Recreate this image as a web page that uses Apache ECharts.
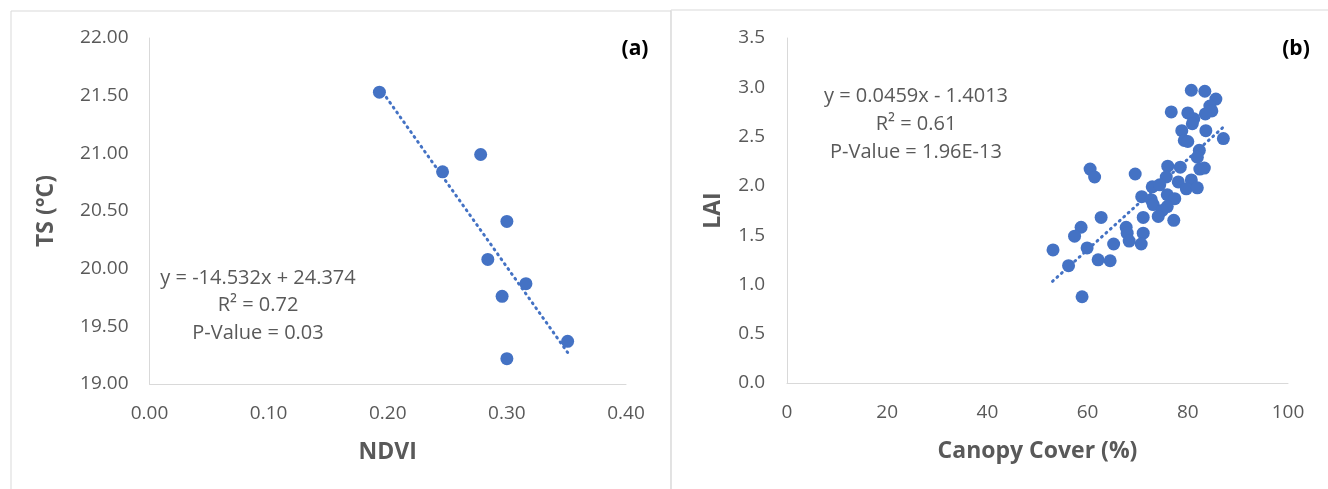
<!DOCTYPE html>
<html>
<head>
<meta charset="utf-8">
<script src="https://cdn.jsdelivr.net/npm/echarts@6/dist/echarts.min.js"></script>
<style>
html,body{margin:0;padding:0;background:#fff;}
#c{width:1328px;height:489px;}
</style>
</head>
<body>
<div id="c"></div>
<script>
// Panel (a): NDVI vs TS
const ndvi = [0.193, 0.246, 0.278, 0.300, 0.284, 0.316, 0.296, 0.351, 0.300];
const ts   = [21.53, 20.84, 20.99, 20.41, 20.08, 19.87, 19.76, 19.37, 19.22];
const trendA = { slope: -14.532, intercept: 24.374, from: 0.193, to: 0.351 };
const eqA = ['y = -14.532x + 24.374', 'R² = 0.72', 'P-Value = 0.03'];
const xTicksA = [0.00, 0.10, 0.20, 0.30, 0.40];
const yTicksA = [19.00, 19.50, 20.00, 20.50, 21.00, 21.50, 22.00];

// Panel (b): Canopy cover vs LAI
const canopy = [80.7, 83.4, 85.6, 84.4, 84.8, 83.5, 76.7, 80.0, 81.2, 80.9,
                78.8, 83.6, 87.1, 79.3, 80.0, 82.3, 81.9, 60.5, 61.4, 69.5,
                76.0, 78.5, 82.4, 83.3, 75.7, 78.1, 80.7, 72.9, 74.4, 79.7,
                81.9, 70.8, 72.7, 75.9, 77.4, 73.1, 75.9, 74.9, 74.1, 71.1,
                77.2, 62.7, 67.7, 67.9, 68.3, 71.1, 70.7, 65.2, 58.7, 57.4,
                59.9, 53.1, 62.1, 64.5, 56.2, 58.9];
const lai    = [2.97, 2.96, 2.88, 2.81, 2.76, 2.73, 2.75, 2.74, 2.68, 2.63,
                2.56, 2.56, 2.48, 2.46, 2.45, 2.36, 2.29, 2.17, 2.09, 2.12,
                2.20, 2.19, 2.17, 2.18, 2.09, 2.04, 2.06, 1.99, 2.01, 1.97,
                1.98, 1.89, 1.86, 1.91, 1.87, 1.81, 1.79, 1.75, 1.69, 1.68,
                1.65, 1.68, 1.58, 1.52, 1.44, 1.52, 1.41, 1.41, 1.58, 1.49,
                1.37, 1.35, 1.25, 1.24, 1.19, 0.875];
const trendB = { slope: 0.0459, intercept: -1.4013, from: 53.0, to: 87.1 };
const eqB = ['y = 0.0459x - 1.4013', 'R² = 0.61', 'P-Value = 1.96E-13'];
const xTicksB = [0, 20, 40, 60, 80, 100];
const yTicksB = [0.0, 0.5, 1.0, 1.5, 2.0, 2.5, 3.0, 3.5];

const BLUE = '#4472C4';
const GREY = '#595959';
const LINE = '#d9d9d9';
const FONT = '"Open Sans", "Noto Sans", sans-serif';

function pairs(xs, ys){ return xs.map((x,i)=>[x, ys[i]]); }
function trend(t){ return [[t.from, t.slope*t.from + t.intercept],[t.to, t.slope*t.to + t.intercept]]; }

function axisBase(extra){
  return Object.assign({
    type: 'value',
    axisLine: { show: true, lineStyle: { color: LINE, width: 1 } },
    axisTick: { show: false },
    splitLine: { show: false },
    axisLabel: { color: GREY, fontSize: 19, fontFamily: FONT, margin: 21 },
    nameLocation: 'middle',
    nameTextStyle: { color: GREY, fontSize: 23, fontWeight: 'bold', fontFamily: FONT }
  }, extra);
}

const chart = echarts.init(document.getElementById('c'), null, { renderer: 'canvas' });

function eqTexts(lines, cx, y0, dy){
  return lines.map((t,i)=>({
    type: 'text', x: cx, y: y0 + i*dy,
    style: { text: t, fill: GREY, font: '20px ' + FONT, align: 'center', verticalAlign: 'middle' }
  }));
}

chart.setOption({
  backgroundColor: '#fff',
  animation: false,
  grid: [
    { left: 149.5, right: 702, top: 38, bottom: 105 },
    { left: 787, right: 40, top: 38, bottom: 106 }
  ],
  xAxis: [
    axisBase({ gridIndex: 0, min: xTicksA[0], max: xTicksA[xTicksA.length-1], interval: 0.1,
      name: 'NDVI', nameGap: 57,
      axisLabel: { color: GREY, fontSize: 19, fontFamily: FONT, margin: 20, formatter: v => v.toFixed(2) } }),
    axisBase({ gridIndex: 1, min: xTicksB[0], max: xTicksB[xTicksB.length-1], interval: 20,
      name: 'Canopy Cover (%)', nameGap: 57,
      axisLabel: { color: GREY, fontSize: 19, fontFamily: FONT, margin: 20 } })
  ],
  yAxis: [
    axisBase({ gridIndex: 0, min: yTicksA[0], max: yTicksA[yTicksA.length-1], interval: 0.5,
      name: 'TS (°C)', nameGap: 92,
      axisLabel: { color: GREY, fontSize: 19, fontFamily: FONT, margin: 21, formatter: v => v.toFixed(2) } }),
    axisBase({ gridIndex: 1, min: yTicksB[0], max: yTicksB[yTicksB.length-1], interval: 0.5,
      name: 'LAI', nameGap: 62,
      axisLabel: { color: GREY, fontSize: 19, fontFamily: FONT, margin: 22, formatter: v => v.toFixed(1) } })
  ],
  series: [
    { type: 'line', xAxisIndex: 0, yAxisIndex: 0, data: trend(trendA), showSymbol: false, silent: true,
      lineStyle: { color: BLUE, width: 3, type: [1, 5], cap: 'round' }, z: 1 },
    { type: 'scatter', xAxisIndex: 0, yAxisIndex: 0, data: pairs(ndvi, ts), symbolSize: 13,
      itemStyle: { color: BLUE, opacity: 1 }, z: 2 },
    { type: 'line', xAxisIndex: 1, yAxisIndex: 1, data: trend(trendB), showSymbol: false, silent: true,
      lineStyle: { color: BLUE, width: 3, type: [1, 5], cap: 'round' }, z: 1 },
    { type: 'scatter', xAxisIndex: 1, yAxisIndex: 1, data: pairs(canopy, lai), symbolSize: 13,
      itemStyle: { color: BLUE, opacity: 1 }, z: 2 }
  ],
  graphic: [
    { type: 'rect', shape: { x: 11, y: 11, width: 660, height: 500 }, style: { fill: 'none', stroke: LINE, lineWidth: 1 }, z: -1 },
    { type: 'rect', shape: { x: 671, y: 10, width: 700, height: 500 }, style: { fill: 'none', stroke: LINE, lineWidth: 1 }, z: -1 },
    { type: 'text', x: 635, y: 49, style: { text: '(a)', fill: '#000', font: 'bold 21px ' + FONT, align: 'center', verticalAlign: 'middle' } },
    { type: 'text', x: 1296, y: 49, style: { text: '(b)', fill: '#000', font: 'bold 21px ' + FONT, align: 'center', verticalAlign: 'middle' } }
  ].concat(eqTexts(eqA, 258, 278, 27.5)).concat(eqTexts(eqB, 916, 96, 28))
});
</script>
</body>
</html>
